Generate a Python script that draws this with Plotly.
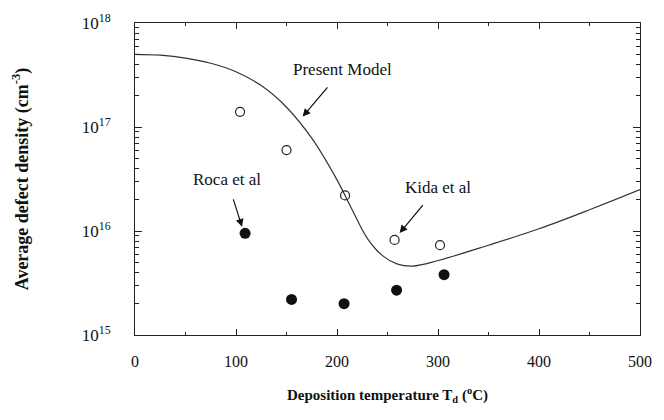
import plotly.graph_objects as go

# Model curve (Present Model)
model_T = [0, 25, 50, 75, 100, 125, 150, 175, 200, 215, 230, 245, 260, 275, 300, 350, 400, 450, 500]
model_N = [5.0e17, 4.9e17, 4.6e17, 4.1e17, 3.4e17, 2.5e17, 1.55e17, 7.8e16, 3.1e16, 1.6e16,
           8.5e15, 5.8e15, 4.8e15, 4.6e15, 5.2e15, 7.3e15, 1.05e16, 1.6e16, 2.5e16]

# Kida et al (open circles)
kida_T = [104, 150, 208, 257, 302]
kida_N = [1.4e17, 6.0e16, 2.2e16, 8.2e15, 7.3e15]

# Roca et al (filled circles)
roca_T = [109, 155, 207, 259, 306]
roca_N = [9.5e15, 2.2e15, 2.0e15, 2.7e15, 3.8e15]

y_tickvals = [1e15, 1e16, 1e17, 1e18]
y_ticktext = ["10<sup>15</sup>", "10<sup>16</sup>", "10<sup>17</sup>", "10<sup>18</sup>"]
y_minor = [m * 10 ** e for e in (15, 16, 17) for m in range(2, 10)]
x_tickvals = [0, 100, 200, 300, 400, 500]

FONT = "Liberation Serif"
INK = "#111111"

fig = go.Figure()
fig.add_trace(go.Scatter(x=model_T, y=model_N, mode="lines",
                         line=dict(color="#333333", width=1.2, shape="spline"),
                         showlegend=False, hoverinfo="skip"))
fig.add_trace(go.Scatter(x=kida_T, y=kida_N, mode="markers",
                         marker=dict(symbol="circle-open", size=9, color="#222222",
                                     line=dict(width=1.2, color="#222222")),
                         showlegend=False))
fig.add_trace(go.Scatter(x=roca_T, y=roca_N, mode="markers",
                         marker=dict(symbol="circle", size=11, color=INK),
                         showlegend=False))

ann_font = dict(family=FONT, size=17, color=INK)
for tx, ty, label, dx, dy in [(166, 2.10, "Present Model", 40, -47),
                              (106, 1.04, "Roca et al", -15, -47),
                              (262, 0.98, "Kida et al", 38, -46)]:
    fig.add_annotation(x=tx, y=ty + 15, xref="x", yref="y", text=label,
                       ax=dx, ay=dy, showarrow=True,
                       arrowhead=2, arrowsize=1.3, arrowwidth=1.2, arrowcolor=INK,
                       font=ann_font, standoff=0, startstandoff=9)

fig.update_layout(
    width=664, height=420,
    margin=dict(l=127, r=32, t=15, b=93),
    paper_bgcolor="white", plot_bgcolor="white",
    font=dict(family=FONT, size=14, color=INK),
)
fig.update_xaxes(
    range=[0, 500], tickvals=x_tickvals, ticks="inside", ticklen=6,
    showline=True, linecolor="#222222", linewidth=1, mirror="allticks",
    showgrid=False, zeroline=False, tickcolor="#222222", automargin=False,
    minor=dict(ticks="inside", ticklen=3, dtick=50, tickcolor="#222222"),
    ticklabelstandoff=12, tickfont=dict(family=FONT, size=16),
    title=dict(text="<b>Deposition temperature T<sub>d</sub> (<sup>o</sup>C)</b>",
               font=dict(family=FONT, size=15), standoff=20),
)
fig.update_yaxes(
    type="log", range=[15, 18], tickvals=y_tickvals, ticktext=y_ticktext,
    ticks="inside", ticklen=7,
    showline=True, linecolor="#222222", linewidth=1, mirror="allticks",
    showgrid=False, zeroline=False, tickcolor="#222222", automargin=False,
    minor=dict(ticks="inside", ticklen=4, tickvals=y_minor, tickcolor="#222222",
               showgrid=False),
    ticklabelstandoff=20, tickfont=dict(family=FONT, size=17),
    title=dict(text="<b>Average defect density (cm<sup>-3</sup>)</b>",
               font=dict(family=FONT, size=18), standoff=48),
)

fig.write_html("out.html")
